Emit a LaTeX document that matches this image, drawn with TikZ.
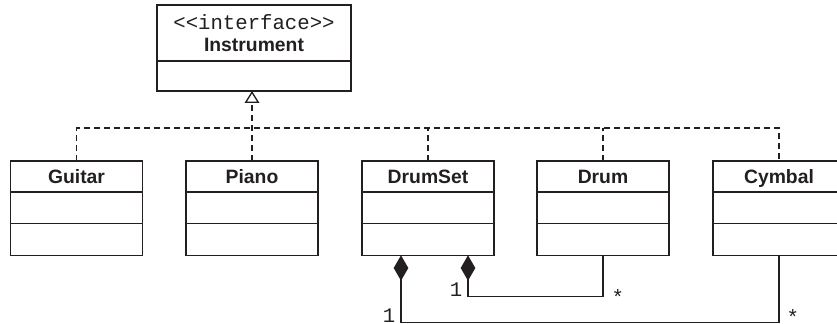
\documentclass[tikz,border=0pt]{standalone}
\usepackage{fontspec}
\setmainfont{Liberation Sans}
\newfontfamily\monot{Liberation Mono}
\usetikzlibrary{arrows.meta,positioning}
\definecolor{tinta}{RGB}{35,31,32}
\tikzset{
  caja/.style={draw=tinta,line width=1pt,minimum width=99pt,inner sep=0pt,outer sep=0pt,
               font=\fontsize{14.5}{17}\selectfont\bfseries,text=tinta},
  titulo/.style={caja,minimum height=23.25pt,text height=10.5pt,text depth=0pt},
  seccion/.style={caja,minimum height=23.75pt},
  guion/.style={draw=tinta,line width=1pt,dash pattern=on 4.5pt off 3pt},
  realiza/.style={guion,-{Triangle[open,length=9pt,width=11pt,line width=1pt]}},
  compone/.style={draw=tinta,line width=1pt,{Diamond[length=19pt,width=11pt,fill=tinta]}-},
  mult/.style={font=\monot\fontsize{15.5}{17}\selectfont,text=tinta,inner sep=0pt},
}
\begin{document}
\begin{tikzpicture}[x=0.75pt,y=-0.75pt]
    \useasboundingbox (0,0) rectangle (837,324);
    \clip (0,0) rectangle (837,324);
    \node[caja,minimum width=145.5pt,minimum height=42pt,align=center] (iface) at (254,33)
      {{\monot\mdseries\fontsize{15.5}{17}\selectfont <<interface>>}\\[-1pt] Instrument};
    \node[seccion,minimum width=145.5pt,minimum height=22.5pt,below=0pt of iface] (iface-m) {};
    \foreach \n/\x/\t in {guitar/76.5/Guitar,piano/252/Piano,drumset/428/DrumSet,drum/603/Drum,cymbal/779/Cymbal}{
      \node[titulo] (\n) at (\x,176.5) {\t};
      \node[seccion,below=0pt of \n] (\n-a) {};
      \node[seccion,below=0pt of \n-a] (\n-m) {};
    }
    \coordinate (bus) at (0,128);
    \draw[guion] (guitar.north) |- (bus -| cymbal.north) -- (cymbal.north);
    \foreach \n in {drumset,drum} \draw[guion] (\n.north) -- (\n.north |- bus);
    \draw[realiza] (piano.north) -- (piano.north |- iface-m.south);
    \draw[compone] ([xshift=30pt]drumset-m.south) -- ++(0,41)
      node[mult,anchor=base east,xshift=-3.75pt] (m1) {1}
      -| node[pos=0.5,mult,anchor=base west,xshift=6pt,yshift=-6pt] (m2) {*} (drum-m.south);
    \draw[compone] ([xshift=-20.25pt]drumset-m.south) -- ++(0,67)
      node[mult,anchor=base east,xshift=-3.75pt] (m3) {1}
      -| node[pos=0.5,mult,anchor=base west,xshift=5.25pt,yshift=-1.5pt] (m4) {*} (cymbal-m.south);
  \end{tikzpicture}
\end{document}
